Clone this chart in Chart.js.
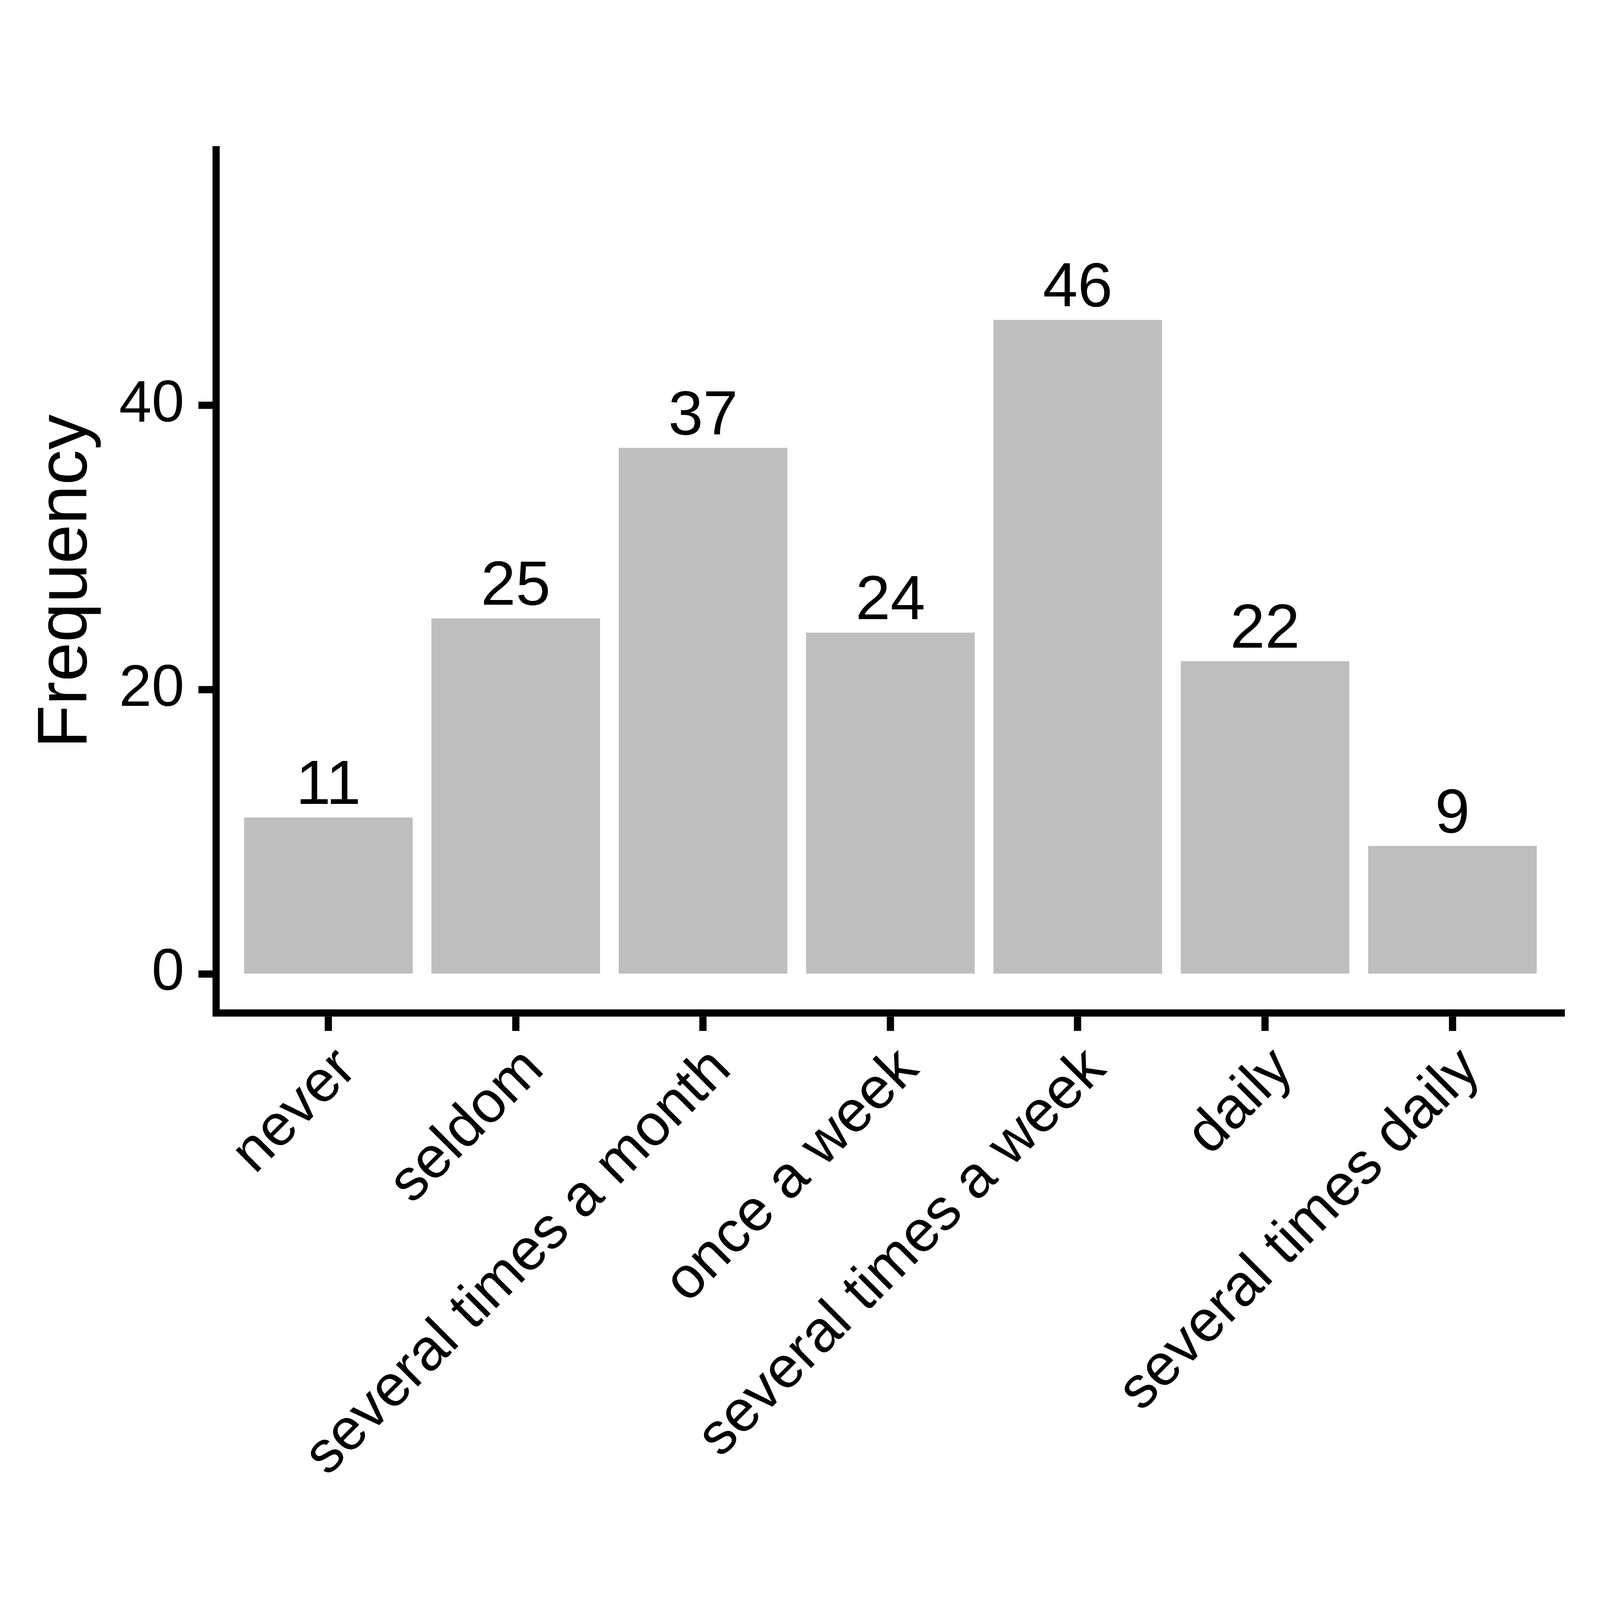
<!DOCTYPE html>
<html>
<head>
<meta charset="utf-8">
<script src="https://cdn.jsdelivr.net/npm/chart.js@4/dist/chart.umd.min.js"></script>
<style>
  html, body { margin: 0; padding: 0; background: #ffffff; overflow: hidden; }
</style>
</head>
<body>
<canvas id="freq-chart"></canvas>
<script>
// categories and counts
var categories = ["never", "seldom", "several times a month", "once a week",
                  "several times a week", "daily", "several times daily"];
var counts = [11, 25, 37, 24, 46, 22, 9];
var yTicks = [0, 20, 40];
var yTitle = "Frequency";

var FONT = "'Liberation Sans', Arial, sans-serif";

// the reference is 6000px square; everything below is measured in that space
var W = Math.min(window.innerWidth, window.innerHeight);
var S = W / 6000;
function px(v) { return v * S; }

// bar positions 1..n on a linear axis so the outer margins match ggplot (0.6 units)
var points = counts.map(function (v, i) { return { x: i + 1, y: v }; });

// draws the count above each bar
const barLabels = {
    id: 'barLabels',
    afterDatasetsDraw(chart) {
        const ctx = chart.ctx;
        const meta = chart.getDatasetMeta(0);
        ctx.save();
        ctx.fillStyle = '#000000';
        ctx.font = px(235) + "px " + FONT;
        ctx.textAlign = 'center';
        ctx.textBaseline = 'alphabetic';
        meta.data.forEach(function (bar, i) {
            ctx.fillText(String(counts[i]), bar.x, bar.y - px(51));
        });
        ctx.restore();
    }
};

var canvas = document.getElementById('freq-chart');
canvas.width = W;
canvas.height = W;
canvas.style.width = W + 'px';
canvas.style.height = W + 'px';

const ctx = canvas.getContext('2d');
var freqChart = new Chart(ctx, {
    type: 'bar',
    data: {
        datasets: [{
            data: points,
            backgroundColor: '#BEBEBE',
            borderWidth: 0,
            barPercentage: 0.9,
            categoryPercentage: 1.0
        }]
    },
    options: {
        responsive: false,
        devicePixelRatio: 1,
        animation: false,
        layout: {
            padding: { top: px(562), right: px(132), left: 0, bottom: 0 }
        },
        plugins: {
            legend: { display: false },
            tooltip: { enabled: false }
        },
        scales: {
            x: {
                type: 'linear',
                offset: false,
                min: 0.4,
                max: 7.6,
                afterBuildTicks: function (axis) {
                    axis.ticks = categories.map(function (c, i) { return { value: i + 1 }; });
                },
                afterFit: function (axis) {
                    axis.height = px(2202);
                },
                grid: {
                    offset: false,
                    drawOnChartArea: false,
                    drawTicks: true,
                    tickLength: px(68),
                    tickWidth: px(27),
                    tickColor: '#000000'
                },
                border: { display: true, color: '#000000', width: px(27) },
                ticks: {
                    autoSkip: false,
                    minRotation: 45,
                    maxRotation: 45,
                    padding: px(15),
                    labelOffset: px(70),
                    color: '#000000',
                    font: { family: FONT, size: px(220) },
                    callback: function (value, index) {
                        return categories[index];
                    }
                }
            },
            y: {
                min: -2.74,
                max: 57.96,
                afterBuildTicks: function (axis) {
                    axis.ticks = yTicks.map(function (v) { return { value: v }; });
                },
                afterFit: function (axis) {
                    axis.width = px(810);
                },
                grid: {
                    drawOnChartArea: false,
                    drawTicks: true,
                    tickLength: px(66),
                    tickWidth: px(27),
                    tickColor: '#000000'
                },
                border: { display: true, color: '#000000', width: px(27) },
                ticks: {
                    padding: px(53),
                    color: '#000000',
                    font: { family: FONT, size: px(220) }
                },
                title: {
                    display: true,
                    text: yTitle,
                    color: '#000000',
                    padding: { top: px(91), bottom: 0 },
                    font: { family: FONT, size: px(265) }
                }
            }
        }
    },
    plugins: [barLabels]
});
</script>
</body>
</html>
